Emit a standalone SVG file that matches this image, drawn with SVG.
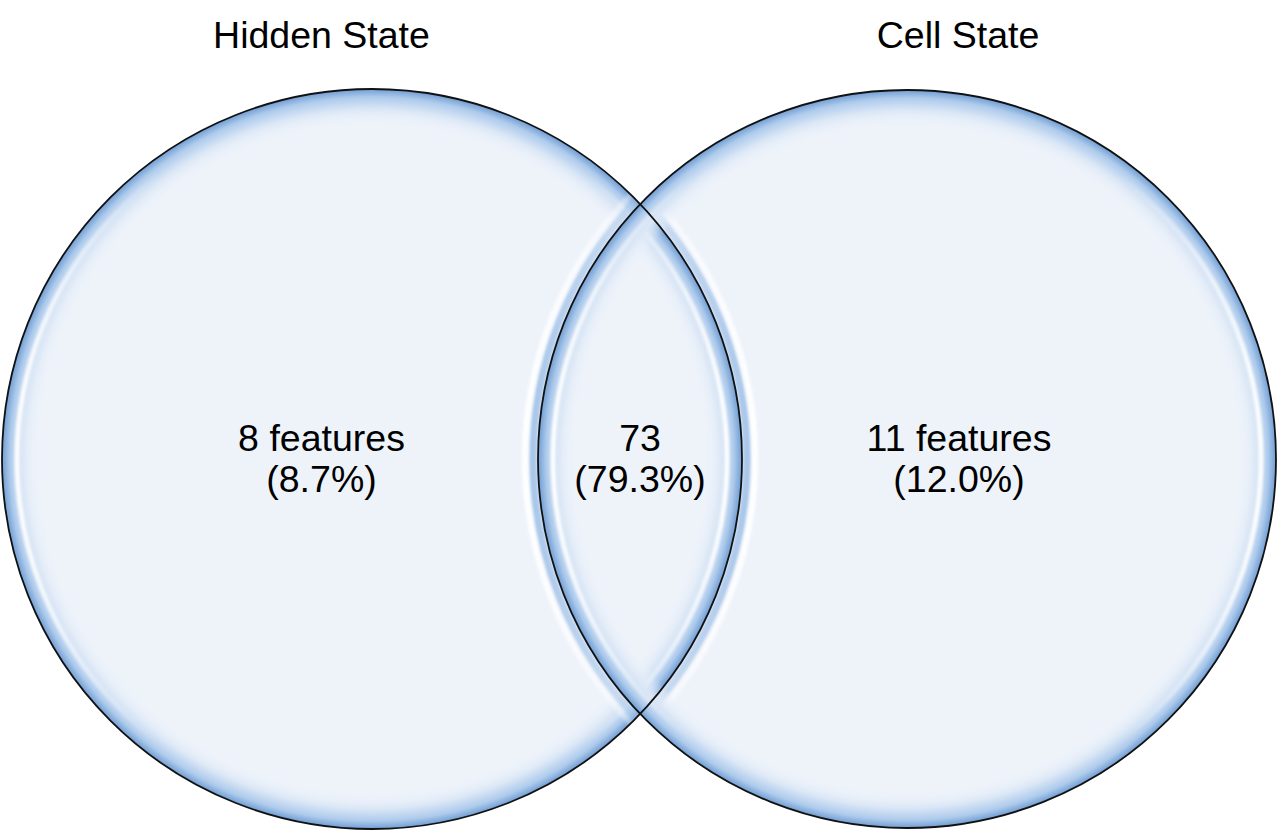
<svg xmlns="http://www.w3.org/2000/svg" width="1280" height="833" viewBox="0 0 1280 833">
<style>
.base{fill:#EEF3FA;stroke:none}
.edge{fill:none;stroke:#111;stroke-width:1.8}
.lbl{font-family:"Liberation Sans",Arial,sans-serif;font-size:37.5px;fill:#000;text-anchor:middle}
</style>
<defs>
<radialGradient id="ring" cx="0.5" cy="0.5" r="0.5">
<stop offset="0" stop-color="#EEF3FA" stop-opacity="0"/>
<stop offset="0.90" stop-color="#EEF3FA" stop-opacity="0"/>
<stop offset="0.945" stop-color="#dbe7f6" stop-opacity="1"/>
<stop offset="0.978" stop-color="#aecbec" stop-opacity="1"/>
<stop offset="1" stop-color="#709dd3" stop-opacity="1"/>
</radialGradient>
<linearGradient id="hl" x1="0" y1="0" x2="1" y2="0">
<stop offset="0" stop-color="#fff" stop-opacity="1"/>
<stop offset="0.2" stop-color="#fff" stop-opacity="0"/>
<stop offset="0.8" stop-color="#fff" stop-opacity="0"/>
<stop offset="1" stop-color="#fff" stop-opacity="1"/>
</linearGradient>
<linearGradient id="hb" x1="0" y1="0" x2="1" y2="0">
<stop offset="0" stop-color="#a9c7ea" stop-opacity="1"/>
<stop offset="0.25" stop-color="#a9c7ea" stop-opacity="0"/>
<stop offset="0.75" stop-color="#a9c7ea" stop-opacity="0"/>
<stop offset="1" stop-color="#a9c7ea" stop-opacity="1"/>
</linearGradient>
<filter id="soft" x="-5%" y="-5%" width="110%" height="110%"><feGaussianBlur stdDeviation="1.5"/></filter>
<clipPath id="clipL"><circle cx="372" cy="459" r="370"/></clipPath>
<clipPath id="clipR"><circle cx="907" cy="459" r="369"/></clipPath>
</defs>
<g id="fills">
<circle class="base" cx="372" cy="459" r="370"/>
<circle class="base" cx="907" cy="459" r="369"/>
</g>
<g id="hidden-state">
<circle cx="372" cy="459" r="370" fill="url(#ring)"/>
<g clip-path="url(#clipL)">
<circle cx="372" cy="459" r="355" fill="none" stroke="url(#hl)" stroke-width="5" filter="url(#soft)"/>
</g>
<g clip-path="url(#clipR)">
<circle cx="372" cy="459" r="375" fill="none" stroke="url(#hb)" stroke-width="8" filter="url(#soft)"/>
<circle cx="372" cy="459" r="383" fill="none" stroke="url(#hl)" stroke-width="6" filter="url(#soft)"/>
</g>
</g>
<g id="cell-state">
<circle cx="907" cy="459" r="369" fill="url(#ring)"/>
<g clip-path="url(#clipR)">
<circle cx="907" cy="459" r="354" fill="none" stroke="url(#hl)" stroke-width="5" filter="url(#soft)"/>
</g>
<g clip-path="url(#clipL)">
<circle cx="907" cy="459" r="374" fill="none" stroke="url(#hb)" stroke-width="8" filter="url(#soft)"/>
<circle cx="907" cy="459" r="382" fill="none" stroke="url(#hl)" stroke-width="6" filter="url(#soft)"/>
</g>
</g>
<g id="outlines">
<circle class="edge" cx="372" cy="459" r="370"/>
<circle class="edge" cx="907" cy="459" r="369"/>
</g>
<g id="labels">
<text class="lbl" x="321.5" y="48">Hidden State</text>
<text class="lbl" x="958" y="48">Cell State</text>
<text class="lbl" x="321.5" y="451">8 features</text>
<text class="lbl" x="321.5" y="492">(8.7%)</text>
<text class="lbl" x="640" y="451">73</text>
<text class="lbl" x="640" y="492">(79.3%)</text>
<text class="lbl" x="959" y="451">11 features</text>
<text class="lbl" x="959" y="492">(12.0%)</text>
</g>
</svg>
